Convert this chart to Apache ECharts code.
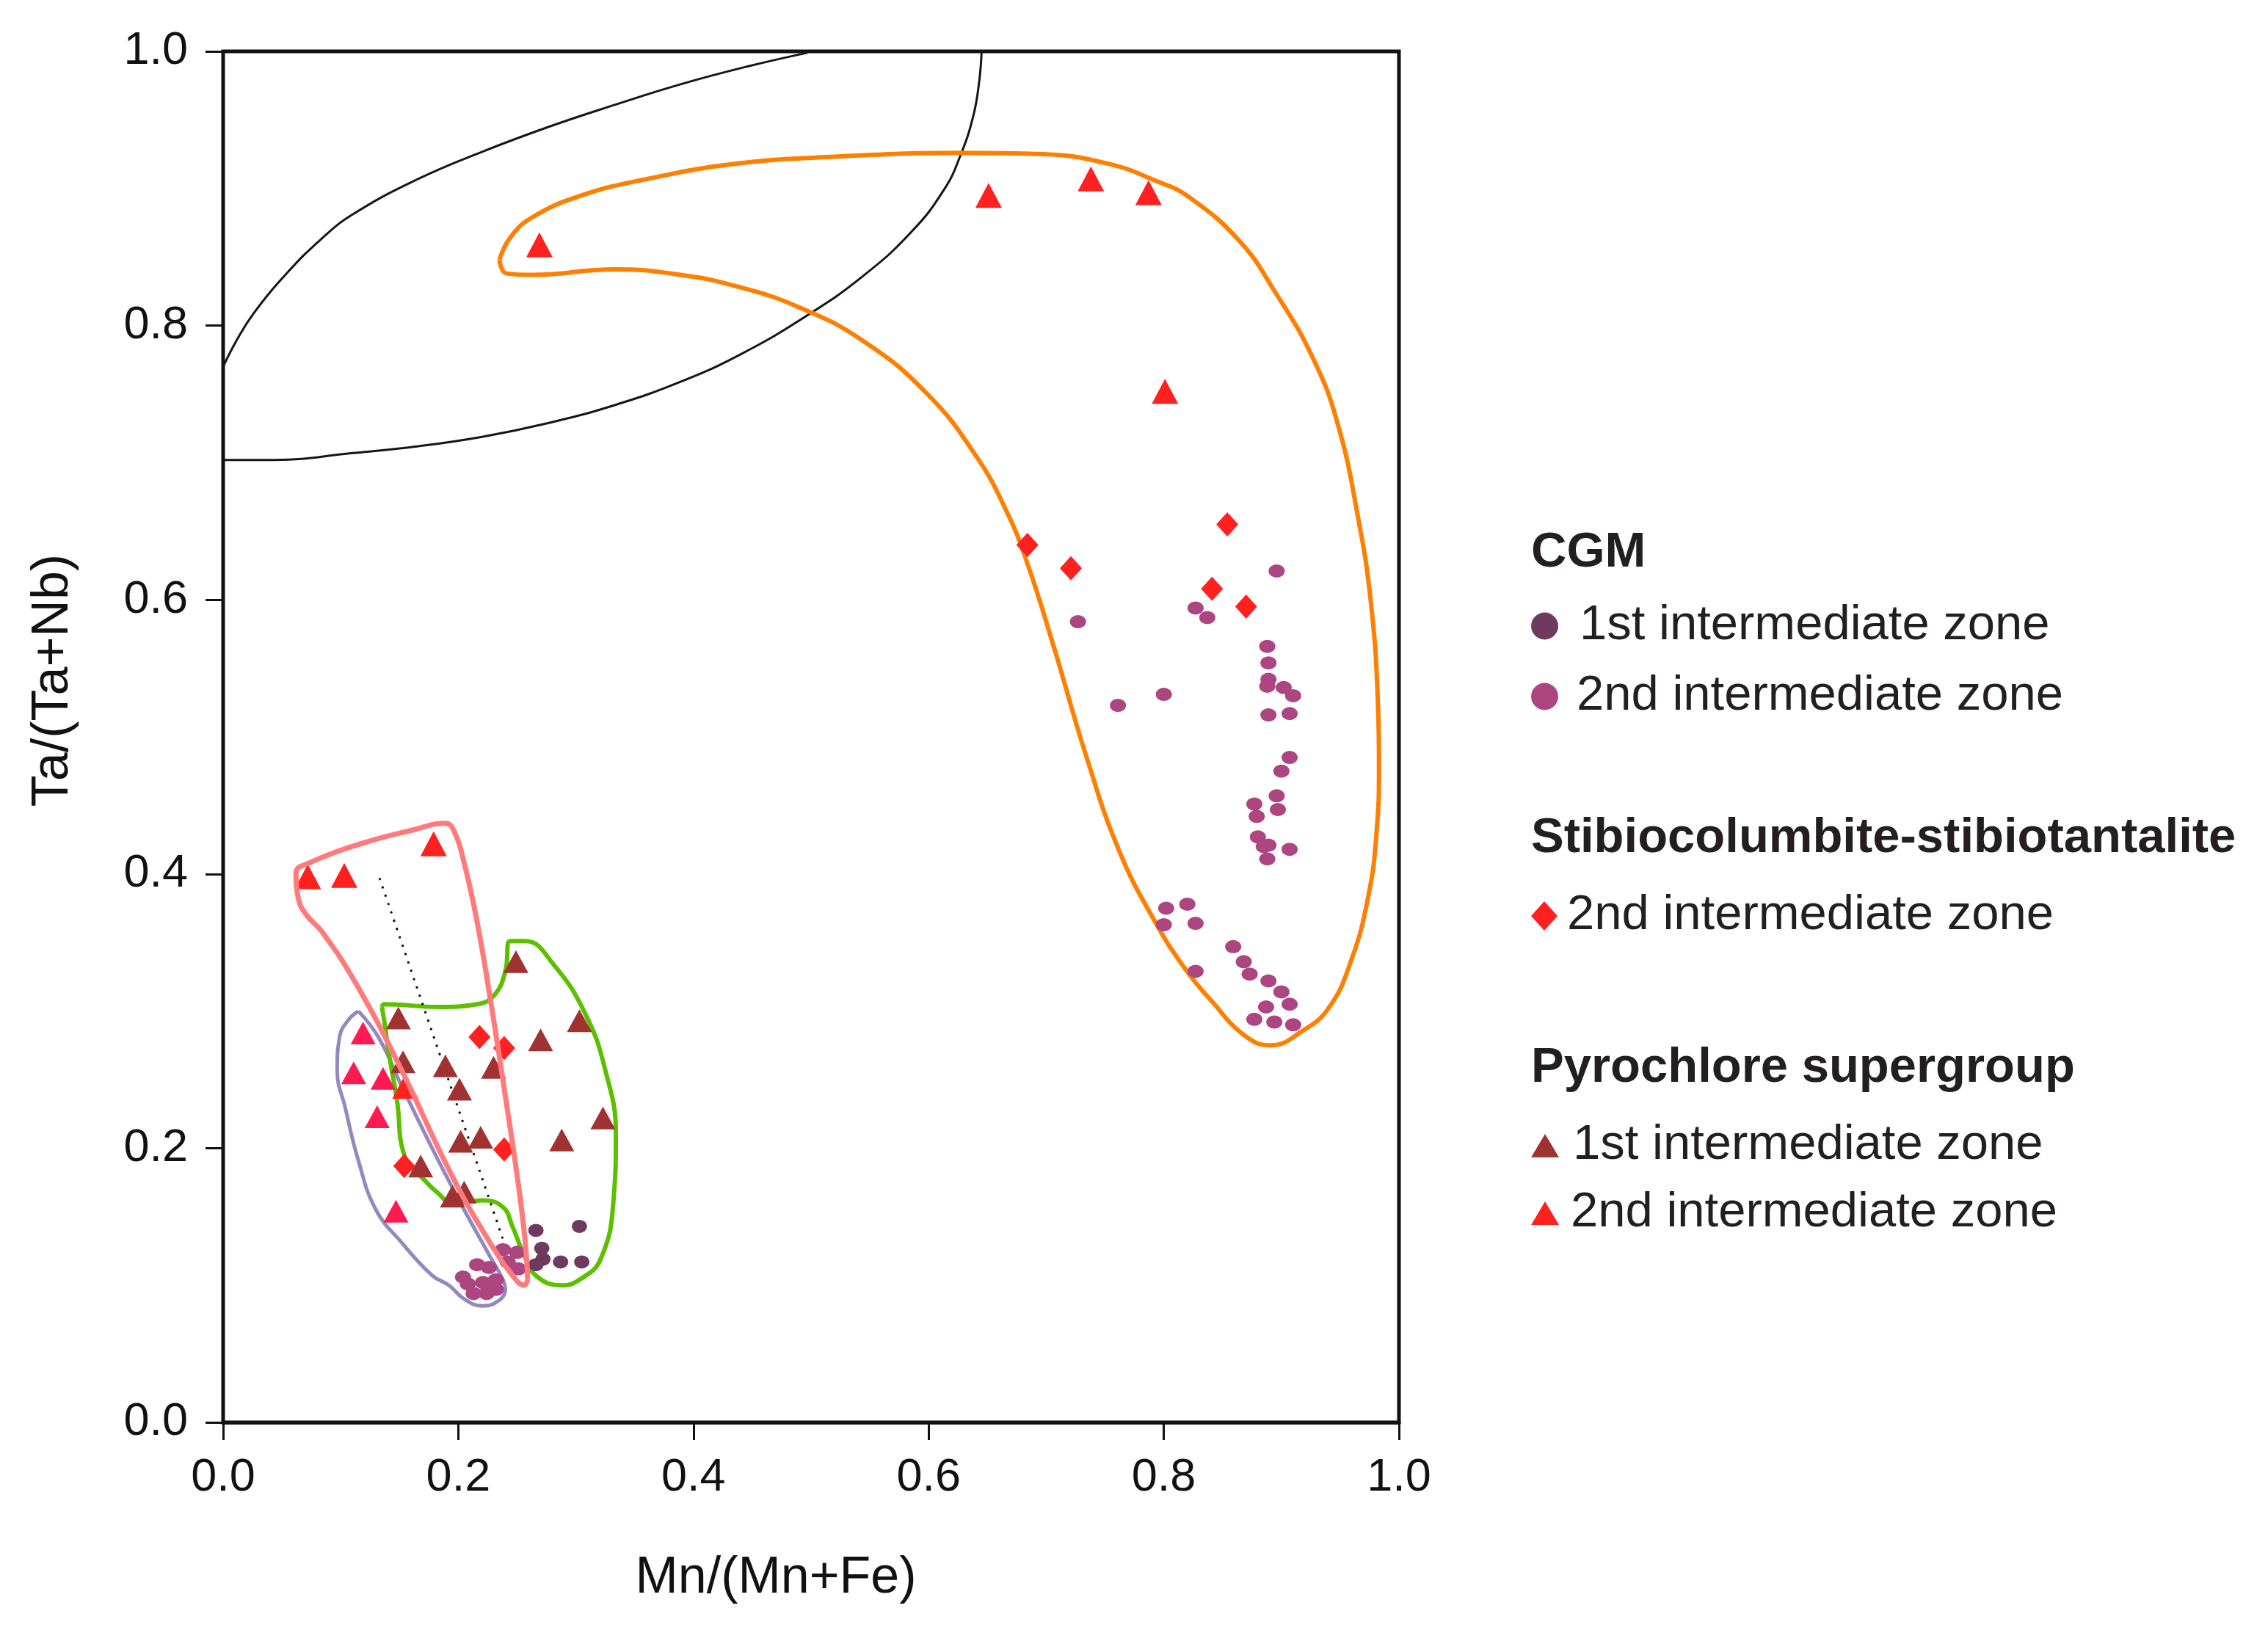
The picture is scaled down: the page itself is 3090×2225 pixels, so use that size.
<!DOCTYPE html>
<html>
<head>
<meta charset="utf-8">
<script src="https://cdn.jsdelivr.net/npm/echarts@6/dist/echarts.min.js"></script>
<style>
html,body{margin:0;padding:0;background:#fff;}
#chart{width:3090px;height:2225px;}
</style>
</head>
<body>
<div id="chart"></div>
<script>
// ---------- axis ticks ----------
const xTicks = [0.0, 0.2, 0.4, 0.6, 0.8, 1.0];
const yTicks = [0.0, 0.2, 0.4, 0.6, 0.8, 1.0];

// ---------- point data [Mn/(Mn+Fe), Ta/(Ta+Nb)] ----------
const cgm1st = [[0.266,0.140],[0.303,0.143],[0.271,0.127],[0.272,0.119],[0.266,0.115],[0.287,0.117],[0.305,0.117]];
const cgm2nd = [
  [0.238,0.126],[0.250,0.124],[0.242,0.117],[0.251,0.112],[0.216,0.115],[0.226,0.113],[0.204,0.106],
  [0.208,0.101],[0.221,0.102],[0.232,0.104],[0.213,0.094],[0.224,0.094],[0.232,0.097],
  [0.896,0.621],[0.727,0.584],[0.827,0.594],[0.837,0.587],[0.888,0.566],[0.889,0.554],[0.889,0.542],
  [0.888,0.537],[0.902,0.536],[0.910,0.530],[0.889,0.516],[0.907,0.517],[0.800,0.531],[0.761,0.523],
  [0.907,0.485],[0.900,0.475],[0.896,0.457],[0.897,0.447],[0.877,0.451],[0.879,0.442],[0.880,0.427],
  [0.889,0.421],[0.885,0.420],[0.907,0.418],[0.888,0.411],[0.802,0.375],[0.820,0.378],[0.800,0.363],
  [0.827,0.364],[0.827,0.329],[0.859,0.347],[0.868,0.336],[0.873,0.327],[0.889,0.322],[0.900,0.314],
  [0.907,0.305],[0.887,0.303],[0.877,0.294],[0.894,0.292],[0.910,0.290]
];
const stibio2nd = [[0.684,0.640],[0.721,0.623],[0.854,0.655],[0.841,0.608],[0.870,0.595],[0.218,0.281],[0.239,0.273],[0.239,0.199],[0.154,0.187]];
const pyro1st = [
  [0.149,0.295],[0.249,0.336],[0.303,0.293],[0.270,0.279],[0.153,0.263],[0.189,0.260],[0.230,0.259],
  [0.201,0.243],[0.323,0.222],[0.288,0.206],[0.202,0.205],[0.219,0.208],[0.168,0.187],[0.205,0.168],[0.195,0.165]
];
const pyro2nd = [[0.269,0.859],[0.651,0.895],[0.738,0.907],[0.787,0.897],[0.801,0.752],[0.072,0.398],[0.103,0.399],[0.179,0.422],[0.155,0.245]];
const pyro2ndPink = [[0.119,0.284],[0.111,0.255],[0.136,0.251],[0.131,0.223],[0.147,0.154]];

// ---------- field outlines ----------
const fieldUpper = [[0,0.770],[0.012,0.790],[0.026,0.809],[0.054,0.838],[0.082,0.862],[0.110,0.881],[0.166,0.907],[0.221,0.927],[0.277,0.945],[0.333,0.961],[0.389,0.976],[0.446,0.989],[0.497,0.999]];
const fieldLower = [[0,0.702],[0.043,0.702],[0.110,0.707],[0.166,0.712],[0.221,0.719],[0.277,0.729],[0.333,0.742],[0.389,0.759],[0.440,0.779],[0.496,0.807],[0.544,0.836],[0.585,0.868],[0.613,0.899],[0.627,0.924],[0.638,0.953],[0.643,0.978],[0.645,0.999]];
const orangeField = [
  [0.235,0.848],[0.244,0.864],[0.263,0.879],[0.305,0.895],[0.361,0.907],[0.435,0.918],[0.516,0.923],
  [0.627,0.926],[0.697,0.925],[0.753,0.918],[0.795,0.905],[0.821,0.894],[0.864,0.862],[0.895,0.824],[0.927,0.776],
  [0.948,0.728],[0.965,0.661],[0.976,0.599],[0.982,0.527],[0.983,0.479],[0.981,0.431],[0.974,0.384],
  [0.959,0.336],[0.940,0.302],[0.917,0.285],[0.891,0.275],[0.869,0.282],[0.841,0.307],[0.818,0.331],
  [0.792,0.366],[0.762,0.417],[0.734,0.486],[0.706,0.567],[0.683,0.629],[0.666,0.665],[0.641,0.704],
  [0.599,0.750],[0.544,0.789],[0.488,0.814],[0.435,0.829],[0.389,0.837],[0.333,0.841],[0.263,0.837],
  [0.241,0.838],[0.235,0.848]
];
const salmonField = [
  [0.259,0.104],[0.257,0.131],[0.251,0.174],[0.240,0.238],[0.227,0.310],[0.216,0.365],[0.205,0.408],
  [0.196,0.432],[0.189,0.437],[0.161,0.432],[0.117,0.422],[0.073,0.408],[0.062,0.401],[0.064,0.382],
  [0.071,0.370],[0.084,0.358],[0.113,0.320],[0.150,0.260],[0.194,0.181],[0.227,0.131],[0.249,0.104],
  [0.256,0.100],[0.259,0.104]
];
const greenField = [
  [0.135,0.303],[0.137,0.305],[0.183,0.303],[0.216,0.305],[0.231,0.312],[0.240,0.329],[0.244,0.351],
  [0.257,0.351],[0.281,0.334],[0.308,0.298],[0.325,0.257],[0.334,0.210],[0.332,0.162],[0.321,0.119],
  [0.303,0.104],[0.288,0.100],[0.266,0.107],[0.255,0.124],[0.246,0.143],[0.238,0.157],[0.220,0.162],
  [0.196,0.159],[0.183,0.167],[0.172,0.176],[0.154,0.195],[0.148,0.234],[0.141,0.269],[0.137,0.293],
  [0.135,0.303]
];
const lavenderField = [
  [0.115,0.300],[0.132,0.281],[0.152,0.245],[0.183,0.191],[0.205,0.155],[0.227,0.121],[0.238,0.104],
  [0.240,0.097],[0.233,0.088],[0.220,0.085],[0.205,0.090],[0.192,0.100],[0.178,0.107],[0.152,0.131],
  [0.130,0.155],[0.115,0.191],[0.104,0.229],[0.097,0.257],[0.099,0.281],[0.106,0.293],[0.115,0.300]
];
const trendLine = [[0.133,0.397],[0.239,0.131]];

// ---------- legend / titles text ----------
const groupTitles = ['CGM', 'Stibiocolumbite-stibiotantalite', 'Pyrochlore supergroup'];
const zoneLabels = ['1st intermediate zone', '2nd intermediate zone'];

const FONT = "'Liberation Sans', Arial, Helvetica, sans-serif";
const TXT = '#231f20';

const S_CGM1 = 'CGM · 1st intermediate zone';
const S_CGM2 = 'CGM · 2nd intermediate zone';
const S_STIB = 'Stibiocolumbite-stibiotantalite · 2nd intermediate zone';
const S_PYR1 = 'Pyrochlore supergroup · 1st intermediate zone';
const S_PYR2 = 'Pyrochlore supergroup · 2nd intermediate zone';

function outline(name, data, color, width, z, type) {
  return {
    name: name, type: 'line', data: data, smooth: 0.45, symbol: 'none', silent: true, z: z,
    lineStyle: { color: color, width: width, type: type || 'solid', opacity: 1 }, animation: false
  };
}
function dots(name, data, symbol, size, color, z) {
  return { name: name, type: 'scatter', data: data, symbol: symbol, symbolSize: size, z: z,
    itemStyle: { color: color, opacity: 1 } };
}
function legendItem(seriesName, label, top, icon, w, h, gap) {
  return {
    selectedMode: false, left: 2086, top: top, padding: 0, itemGap: 0,
    icon: icon, itemWidth: w, itemHeight: h, data: [seriesName],
    formatter: function () { return label; },
    textStyle: { fontSize: 67, fontFamily: FONT, color: TXT, lineHeight: 80, padding: [0, 0, 0, gap] }
  };
}
function groupTitle(text, top) {
  return {
    text: text, left: 2086, top: top, padding: 0,
    textStyle: { fontSize: 67, fontWeight: 'bold', fontFamily: FONT, color: TXT, lineHeight: 80 }
  };
}

const chart = echarts.init(document.getElementById('chart'), null, { renderer: 'canvas' });
chart.setOption({
  animation: false,
  backgroundColor: '#ffffff',
  title: [groupTitle(groupTitles[0], 714), groupTitle(groupTitles[1], 1103), groupTitle(groupTitles[2], 1416)],
  legend: [
    legendItem(S_CGM1, zoneLabels[0], 813, 'circle', 37, 37, 24),
    legendItem(S_CGM2, zoneLabels[1], 909, 'circle', 37, 37, 20),
    legendItem(S_STIB, zoneLabels[1], 1208, 'diamond', 36, 40, 8),
    legendItem(S_PYR1, zoneLabels[0], 1521, 'triangle', 38, 32, 14),
    legendItem(S_PYR2, zoneLabels[1], 1613, 'triangle', 38, 32, 11)
  ],
  grid: { left: 304, right: 1184, top: 70, bottom: 287, show: true, borderColor: '#111', borderWidth: 5, outerBoundsMode: 'none' },
  xAxis: {
    type: 'value', min: 0, max: 1, interval: 0.2,
    name: 'Mn/(Mn+Fe)', nameLocation: 'middle', nameGap: 178,
    nameTextStyle: { fontSize: 70, fontFamily: FONT, color: '#111', padding: [0, 96, 0, 0] },
    axisLine: { show: true, lineStyle: { color: '#111', width: 5 } },
    axisTick: { show: true, inside: false, length: 24, lineStyle: { color: '#111', width: 3 } },
    axisLabel: { margin: 44, fontSize: 63, fontFamily: FONT, color: '#111', formatter: v => v.toFixed(1) },
    splitLine: { show: false }
  },
  yAxis: {
    type: 'value', min: 0, max: 1, interval: 0.2,
    name: 'Ta/(Ta+Nb)', nameLocation: 'middle', nameGap: 196, nameRotate: 90,
    nameTextStyle: { fontSize: 70, fontFamily: FONT, color: '#111', padding: [0, 0, 0, 154] },
    axisLine: { show: true, lineStyle: { color: '#111', width: 3 } },
    axisTick: { show: true, inside: false, length: 24, lineStyle: { color: '#111', width: 3 } },
    axisLabel: { margin: 48, fontSize: 63, fontFamily: FONT, color: '#111', padding: [0, 0, 22, 0], formatter: v => v.toFixed(1) },
    splitLine: { show: false }
  },
  series: [
    outline('field upper', fieldUpper, '#1a1414', 3, 1),
    outline('field lower', fieldLower, '#1a1414', 3, 1),
    outline('orange field', orangeField, '#ff7f00', 6, 1),
    outline('lavender field', lavenderField, '#9388c0', 5, 1),
    outline('green field', greenField, '#5cc000', 6, 1),
    outline('trend', trendLine, '#111', 3, 1, [3, 9]),
    dots(S_CGM2, cgm2nd, 'circle', [22, 18], '#ad4580', 3),
    dots(S_CGM1, cgm1st, 'circle', [21, 18], '#6e3b5e', 3),
    dots(S_PYR1, pyro1st, 'triangle', [34, 31], '#a03232', 3),
    dots('pyrochlore pink', pyro2ndPink, 'triangle', [34, 31], '#ff1a52', 3),
    dots(S_PYR2, pyro2nd, 'triangle', [36, 34], '#ff2020', 3),
    dots(S_STIB, stibio2nd, 'diamond', [30, 33], '#ff2020', 4),
    outline('salmon field', salmonField, '#ff7b7b', 7, 5)
  ]
});
</script>
</body>
</html>
